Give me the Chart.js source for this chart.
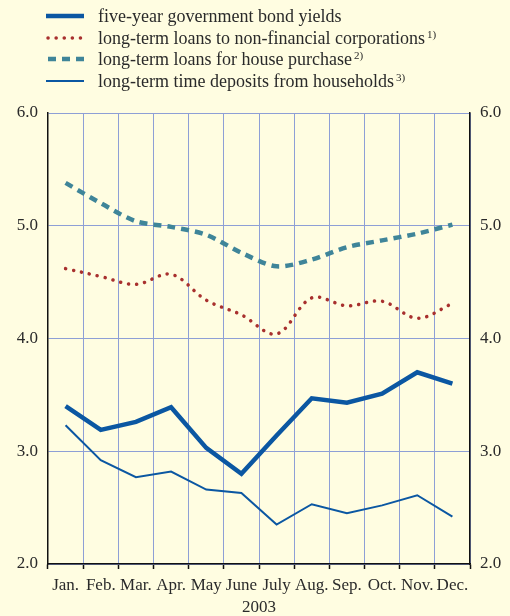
<!DOCTYPE html>
<html>
<head>
<meta charset="utf-8">
<script src="https://cdn.jsdelivr.net/npm/chart.js@4"></script>
<style>
  html, body { margin: 0; padding: 0; background: #fffde1; }
  #wrap { position: relative; width: 510px; height: 616px; }
  #legend { position: absolute; left: 0; top: 0; font-family: "Liberation Serif", serif; font-size: 18px; color: #2a2a2a; }
  .row { position: absolute; left: 46px; height: 22px; white-space: nowrap; }
  .row svg { position: absolute; left: 0; top: 0; }
  .row span { position: absolute; left: 52px; top: 0; line-height: 22px; }
  .row sup { font-size: 11px; vertical-align: 0; position: relative; top: -6px; margin-left: 2px; }
</style>
</head>
<body>
<div id="wrap">
  <canvas id="chart"></canvas>
  <div id="legend"></div>
</div>
<script>
// 2003, monthly, percent
const months = ['Jan.', 'Feb.', 'Mar.', 'Apr.', 'May', 'June', 'July', 'Aug.', 'Sep.', 'Oct.', 'Nov.', 'Dec.'];
const bondYields = [3.40, 3.19, 3.26, 3.39, 3.03, 2.80, 3.14, 3.47, 3.43, 3.51, 3.70, 3.60];
const corpLoans = [4.62, 4.55, 4.48, 4.57, 4.34, 4.21, 4.04, 4.36, 4.29, 4.33, 4.18, 4.31];
const houseLoans = [5.38, 5.20, 5.04, 4.99, 4.92, 4.76, 4.64, 4.70, 4.81, 4.87, 4.93, 5.01];
const timeDeposits = [3.23, 2.92, 2.77, 2.82, 2.66, 2.63, 2.35, 2.53, 2.45, 2.52, 2.61, 2.42];
const yTicks = [2.0, 3.0, 4.0, 5.0, 6.0];
const seriesNames = [
  'five-year government bond yields',
  'long-term loans to non-financial corporations',
  'long-term loans for house purchase',
  'long-term time deposits from households'
];
const footnotes = ['', '1)', '2)', '3)'];

const blue = '#0b57a2';
const red = '#a8302e';
const teal = '#3f8599';
const gridBlue = '#8e9fd6';
const textCol = '#2a2a2a';
const serif = '"Liberation Serif", serif';

// legend (html so the footnote marks can be superscript)
const legendStyles = [
  { color: blue, width: 4.5, dash: '' },
  { color: red, width: 3.5, dash: '0.1 8' },
  { color: teal, width: 4.5, dash: '8 6' },
  { color: blue, width: 2, dash: '' }
];
const legend = document.getElementById('legend');
seriesNames.forEach(function(name, i) {
  const s = legendStyles[i];
  const row = document.createElement('div');
  row.className = 'row';
  row.style.top = (5 + i * 21.7) + 'px';
  row.innerHTML =
    '<svg width="40" height="22"><line x1="' + (s.dash ? 2 : 0) + '" y1="11" x2="38" y2="11" stroke="' + s.color +
    '" stroke-width="' + s.width + '" stroke-linecap="' + (i === 1 ? 'round' : 'butt') + '"' +
    (s.dash ? ' stroke-dasharray="' + s.dash + '"' : '') + '/></svg>' +
    '<span>' + name + (footnotes[i] ? '<sup>' + footnotes[i] + '</sup>' : '') + '</span>';
  legend.appendChild(row);
});

const yAxis = function(position, width) {
  return {
    position: position,
    min: 2, max: 6,
    afterBuildTicks: function(scale) { scale.ticks = yTicks.map(function(v) { return { value: v }; }); },
    afterFit: function(scale) { scale.width = width; },
    border: { display: true, color: '#111', width: 1.5 },
    grid: { display: position === 'left', color: gridBlue, lineWidth: 1, drawTicks: false },
    ticks: {
      padding: 10,
      color: textCol,
      font: { family: serif, size: 17 },
      callback: function(v) { return Number(v).toFixed(1); }
    }
  };
};

new Chart(document.getElementById('chart'), {
  type: 'line',
  data: {
    labels: months,
    datasets: [
      { label: seriesNames[0], data: bondYields, borderColor: blue, borderWidth: 4.5, tension: 0, pointRadius: 0, borderJoinStyle: 'miter' },
      { label: seriesNames[1], data: corpLoans, borderColor: red, borderWidth: 3.5, borderDash: [0.1, 8], borderCapStyle: 'round', tension: 0.35, pointRadius: 0 },
      { label: seriesNames[2], data: houseLoans, borderColor: teal, borderWidth: 4.5, borderDash: [8, 6], tension: 0.3, pointRadius: 0 },
      { label: seriesNames[3], data: timeDeposits, borderColor: blue, borderWidth: 2, tension: 0, pointRadius: 0 }
    ]
  },
  options: {
    responsive: true,
    maintainAspectRatio: false,
    animation: false,
    layout: { padding: { top: 113, left: 0, right: 0, bottom: 0 } },
    plugins: { legend: { display: false }, tooltip: { enabled: false } },
    scales: {
      x: {
        offset: true,
        afterFit: function(scale) { scale.height = 52; },
        border: { display: true, color: '#111', width: 1.5 },
        grid: { offset: true, color: gridBlue, lineWidth: 1, tickColor: '#111', tickLength: 5, tickWidth: 1.5 },
        ticks: { padding: 6, color: textCol, font: { family: serif, size: 17 }, maxRotation: 0, autoSkip: false },
        title: { display: true, text: '2003', color: textCol, font: { family: serif, size: 17 }, padding: { top: 0, bottom: -2 } }
      },
      y: yAxis('left', 48),
      y2: yAxis('right', 40)
    }
  }
});
</script>
</body>
</html>
